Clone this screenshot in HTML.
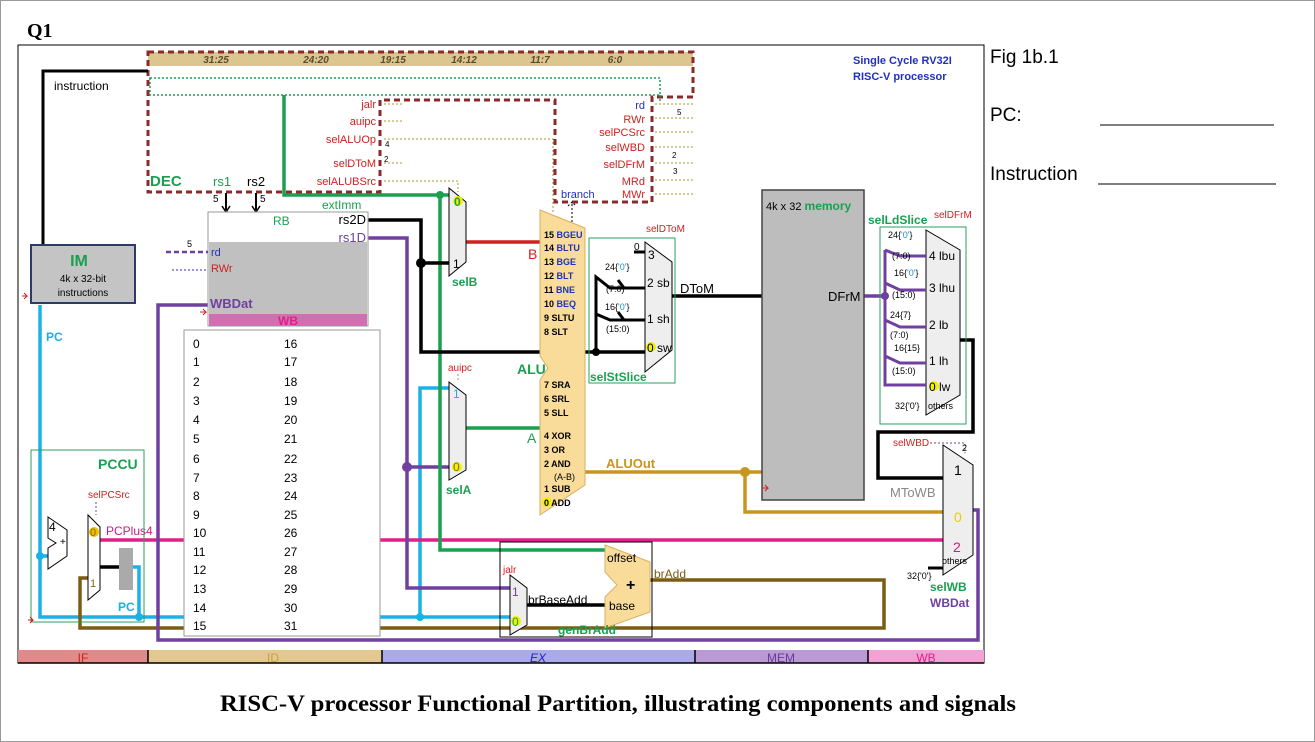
<!DOCTYPE html>
<html><head><meta charset="utf-8"><style>
html,body{margin:0;padding:0;background:#fff}
svg{display:block}
text{font-family:"Liberation Sans",sans-serif}
text.serif{font-family:"Liberation Serif",serif}
</style></head><body>
<svg width="1315" height="742" viewBox="0 0 1315 742" xmlns="http://www.w3.org/2000/svg">
<rect x="0.5" y="0.5" width="1314" height="741" fill="#fff" stroke="#999"/>
<text class="serif" x="27" y="37" font-weight="bold" font-size="20">Q1</text>
<rect x="18" y="45" width="966" height="618" fill="none" stroke="#000" stroke-width="1"/>

<rect x="18" y="650" width="130" height="13" fill="#e08a8a"/>
<rect x="148" y="650" width="234" height="13" fill="#e3c98f"/>
<rect x="382" y="650" width="313" height="13" fill="#aaaaea"/>
<rect x="695" y="650" width="173" height="13" fill="#b99ad4"/>
<rect x="868" y="650" width="116" height="13" fill="#f2a2d4"/>
<g stroke="#000" stroke-width="1.5"><line x1="148" y1="650" x2="148" y2="663"/><line x1="382" y1="650" x2="382" y2="663"/><line x1="695" y1="650" x2="695" y2="663"/><line x1="868" y1="650" x2="868" y2="663"/></g>
<line x1="18" y1="663" x2="984" y2="663" stroke="#000" stroke-width="1.5"/>
<g font-size="12" text-anchor="middle"><text x="83" y="662" fill="#d02020">IF</text><text x="273" y="662" fill="#c8a040">ID</text><text x="538" y="662" fill="#2020c0" font-style="italic">EX</text><text x="781" y="662" fill="#6a3a9a">MEM</text><text x="926" y="662" fill="#e0208a">WB</text></g>

<rect x="148" y="52" width="545" height="14" fill="#dcc68f"/>
<g font-size="10" font-weight="bold" font-style="italic" fill="#5a4a30" text-anchor="middle"><text x="216" y="63">31:25</text><text x="316" y="63">24:20</text><text x="393" y="63">19:15</text><text x="464" y="63">14:12</text><text x="540" y="63">11:7</text><text x="615" y="63">6:0</text></g>
<path d="M148 52 H693 V97 H652 V202 H555 V100 H380 V192 H148 Z" fill="none" stroke="#8b2a2a" stroke-width="3" stroke-dasharray="6,4"/>
<rect x="150" y="78" width="510" height="17" fill="none" stroke="#1aa050" stroke-width="1.5" stroke-dasharray="2,2"/>
<line x1="660" y1="95" x2="660" y2="102" stroke="#1aa050" stroke-width="1.5" stroke-dasharray="2,2"/>
<text x="150" y="186" font-size="15" font-weight="bold" fill="#1aa050">DEC</text>
<g font-size="11" fill="#d02020" text-anchor="end"><text x="376" y="108">jalr</text><text x="376" y="125">auipc</text><text x="376" y="143">selALUOp</text><text x="376" y="167">selDToM</text><text x="376" y="185">selALUBSrc</text></g>
<g stroke="#b8902a" stroke-width="1" stroke-dasharray="2,2" fill="none"><line x1="384" y1="104" x2="402" y2="104"/><line x1="384" y1="121" x2="402" y2="121"/><path d="M384 139 H553 V212"/><line x1="384" y1="163" x2="402" y2="163"/><path d="M384 181 H458 V192"/>
<line x1="655" y1="104" x2="693" y2="104"/><line x1="655" y1="118" x2="693" y2="118"/><line x1="655" y1="132" x2="693" y2="132"/><line x1="655" y1="147" x2="693" y2="147"/><line x1="655" y1="163" x2="693" y2="163"/><line x1="655" y1="180" x2="693" y2="180"/><line x1="655" y1="194" x2="693" y2="194"/></g>
<g font-size="8" fill="#000"><text x="385" y="147">4</text><text x="384" y="162">2</text><text x="677" y="115">5</text><text x="672" y="158">2</text><text x="673" y="174">3</text></g>
<g font-size="11" text-anchor="end"><text x="645" y="109" fill="#2030c0">rd</text><text x="645" y="123" fill="#d02020">RWr</text><text x="645" y="136" fill="#d02020">selPCSrc</text><text x="645" y="151" fill="#d02020">selWBD</text><text x="645" y="168" fill="#d02020">selDFrM</text><text x="645" y="185" fill="#d02020">MRd</text><text x="645" y="198" fill="#d02020">MWr</text></g>
<text x="853" y="64" font-size="11" font-weight="bold" fill="#2030c0">Single Cycle RV32I</text>
<text x="853" y="80" font-size="11" font-weight="bold" fill="#2030c0">RISC-V processor</text>

<text x="990" y="63" font-size="19">Fig 1b.1</text>
<text x="990" y="121" font-size="19">PC:</text>
<line x1="1100" y1="125" x2="1274" y2="125" stroke="#000"/>
<text x="990" y="180" font-size="19">Instruction</text>
<line x1="1098" y1="184" x2="1276" y2="184" stroke="#000"/>

<path d="M148 71 H43 V245" fill="none" stroke="#000" stroke-width="3"/>
<text x="54" y="90" font-size="12">instruction</text>
<rect x="31" y="245" width="104" height="58" fill="#c4c4c4" stroke="#2f3a6b" stroke-width="2"/>
<text x="79" y="266" font-size="16" font-weight="bold" fill="#1aa050" text-anchor="middle">IM</text>
<text x="83" y="282" font-size="10" text-anchor="middle">4k x 32-bit</text>
<text x="83" y="296" font-size="10" text-anchor="middle">instructions</text>
<path d="M22 296 h5 l-3 -3 m3 3 l-3 3" stroke="#d02020" fill="none"/>

<g fill="none" stroke-width="3.5">
<path d="M40 305 V617 H510" stroke="#1ab0e8"/>
<path d="M40 556 H48" stroke="#1ab0e8"/>
<path d="M128 567 H139 V617" stroke="#1ab0e8"/>
<path d="M420 617 V388 H449" stroke="#1ab0e8"/>
<path d="M100 540 H943" stroke="#e0208a"/>
<path d="M650 580 H884 V628 H80 V578 H88" stroke="#7a5c14"/>
<path d="M973 510 H978 V640 H158 V305 H208" stroke="#7040a0"/>
<path d="M368 238 H407 V588 H510" stroke="#7040a0"/>
<path d="M407 467 H449" stroke="#7040a0"/>
<path d="M284 95 V195 H449" stroke="#1aa050"/>
<path d="M440 195 V550 H605" stroke="#1aa050"/>
<path d="M466 428 H540" stroke="#1aa050"/>
<path d="M368 220 H421 V352 H645" stroke="#000"/>
<path d="M421 263 H449" stroke="#000"/>
<path d="M466 242 H540" stroke="#d02020"/>
<path d="M585 472 H762" stroke="#c8961e"/>
<path d="M745 472 V512 H943" stroke="#c8961e"/>
<path d="M672 296 H762" stroke="#000"/>
<path d="M527 605 H605" stroke="#000"/>
<path d="M100 567 H119" stroke="#000"/>
<path d="M960 340 H973 V432 H878 V478 H943" stroke="#000"/>
<path d="M864 296 H885" stroke="#7040a0"/>
</g>
<g>
<circle cx="421" cy="263" r="5"/><circle cx="596" cy="352" r="4"/>
<circle cx="407" cy="467" r="5" fill="#7040a0"/><circle cx="745" cy="472" r="5" fill="#c8961e"/>
<circle cx="40" cy="556" r="4" fill="#1ab0e8"/><circle cx="139" cy="617" r="4" fill="#1ab0e8"/><circle cx="420" cy="617" r="4" fill="#1ab0e8"/>
<circle cx="440" cy="195" r="4" fill="#1aa050"/><circle cx="885" cy="296" r="4" fill="#7040a0"/>
</g>
<text x="322" y="209" font-size="12" fill="#1aa050">extImm</text>
<text x="46" y="341" font-size="12" font-weight="bold" fill="#1ab0e8">PC</text>
<text x="528" y="259" font-size="14" fill="#d02020">B</text>
<text x="527" y="443" font-size="14" fill="#1aa050">A</text>
<text x="606" y="468" font-size="13" font-weight="bold" fill="#c8961e">ALUOut</text>
<text x="680" y="293" font-size="13">DToM</text>
<text x="106" y="535" font-size="12" fill="#c0208a">PCPlus4</text>
<text x="654" y="578" font-size="12" fill="#7a5c14">brAdd</text>

<text x="213" y="186" font-size="13" fill="#1aa050">rs1</text>
<text x="247" y="186" font-size="13">rs2</text>
<g stroke="#000" stroke-width="2"><line x1="226" y1="193" x2="226" y2="210"/><line x1="256" y1="193" x2="256" y2="210"/></g>
<path d="M222 206 l4 6 4 -6 M252 206 l4 6 4 -6" fill="none" stroke="#000" stroke-width="1.5"/>
<g font-size="10"><text x="213" y="202">5</text><text x="260" y="202">5</text></g>

<rect x="208" y="212" width="160" height="114" fill="#fff" stroke="#999"/>
<rect x="209" y="242" width="158" height="72" fill="#c0c0c0"/>
<rect x="209" y="314" width="158" height="12" fill="#d070b0"/>
<text x="273" y="225" font-size="12" fill="#1aa050">RB</text>
<text x="366" y="224" font-size="13" text-anchor="end">rs2D</text>
<text x="366" y="242" font-size="13" text-anchor="end" fill="#7040a0">rs1D</text>
<text x="211" y="256" font-size="11" fill="#2030c0">rd</text>
<text x="211" y="272" font-size="11" fill="#d02020">RWr</text>
<text x="210" y="308" font-size="13" font-weight="bold" fill="#7040a0">WBDat</text>
<text x="288" y="325" font-size="12" font-weight="bold" fill="#e0208a" text-anchor="middle">WB</text>
<line x1="166" y1="252" x2="208" y2="252" stroke="#7040a0" stroke-width="2.5" stroke-dasharray="5,3"/>
<line x1="172" y1="270" x2="208" y2="270" stroke="#2030c0" stroke-dasharray="2,2"/>
<text x="187" y="247" font-size="9">5</text>
<path d="M200 312 h6 l-3 -3 m3 3 l-3 3" stroke="#d02020" fill="none"/>

<rect x="184" y="330" width="196" height="306" fill="#fff" stroke="#999"/>
<g font-size="12">
<text x="193" y="348">0</text><text x="284" y="348">16</text>
<text x="193" y="366">1</text><text x="284" y="366">17</text>
<text x="193" y="386">2</text><text x="284" y="386">18</text>
<text x="193" y="405">3</text><text x="284" y="405">19</text>
<text x="193" y="424">4</text><text x="284" y="424">20</text>
<text x="193" y="443">5</text><text x="284" y="443">21</text>
<text x="193" y="463">6</text><text x="284" y="463">22</text>
<text x="193" y="482">7</text><text x="284" y="482">23</text>
<text x="193" y="500">8</text><text x="284" y="500">24</text>
<text x="193" y="519">9</text><text x="284" y="519">25</text>
<text x="193" y="537">10</text><text x="284" y="537">26</text>
<text x="193" y="556">11</text><text x="284" y="556">27</text>
<text x="193" y="574">12</text><text x="284" y="574">28</text>
<text x="193" y="593">13</text><text x="284" y="593">29</text>
<text x="193" y="612">14</text><text x="284" y="612">30</text>
<text x="193" y="630">15</text><text x="284" y="630">31</text>
</g>

<polygon points="449,188 466,202 466,262 449,276" fill="#eee" stroke="#000"/>
<circle cx="458" cy="201" r="5" fill="#f0f000"/>
<text x="454" y="206" font-size="12" font-weight="bold" fill="#1aa050">0</text>
<text x="453" y="268" font-size="12">1</text>
<text x="452" y="286" font-size="12" font-weight="bold" fill="#1aa050">selB</text>
<polygon points="449,382 466,395 466,470 449,480" fill="#eee" stroke="#000"/>
<text x="453" y="398" font-size="12" fill="#1ab0e8">1</text>
<circle cx="457" cy="467" r="5" fill="#f0f000"/>
<text x="453" y="471" font-size="12" fill="#8a6a00">0</text>
<text x="448" y="371" font-size="10" fill="#d02020">auipc</text>
<path d="M458 374 V382" stroke="#b8902a" stroke-dasharray="2,2"/>
<text x="446" y="494" font-size="12" font-weight="bold" fill="#1aa050">selA</text>

<polygon points="540,210 585,228 585,485 540,515 540,380 548,368 540,356" fill="#f9dc9a" stroke="#d8b060"/>
<text x="517" y="374" font-size="14" font-weight="bold" fill="#1aa050">ALU</text>
<g font-size="9" font-weight="bold">
<text x="544" y="238">15 <tspan fill="#2030c0">BGEU</tspan></text>
<text x="544" y="251">14 <tspan fill="#2030c0">BLTU</tspan></text>
<text x="544" y="265">13 <tspan fill="#2030c0">BGE</tspan></text>
<text x="544" y="279">12 <tspan fill="#2030c0">BLT</tspan></text>
<text x="544" y="293">11 <tspan fill="#2030c0">BNE</tspan></text>
<text x="544" y="307">10 <tspan fill="#2030c0">BEQ</tspan></text>
<text x="544" y="321">9 SLTU</text>
<text x="544" y="335">8 SLT</text>
<text x="544" y="388">7 SRA</text>
<text x="544" y="402">6 SRL</text>
<text x="544" y="416">5 SLL</text>
<text x="544" y="439">4 XOR</text>
<text x="544" y="453">3 OR</text>
<text x="544" y="467">2 AND</text>
<text x="554" y="480" font-weight="normal">(A-B)</text>
<text x="544" y="492">1 SUB</text>
<circle cx="547" cy="502" r="5" fill="#f0f000"/>
<text x="544" y="506">0 ADD</text>
</g>
<text x="561" y="198" font-size="11" fill="#2030c0">branch</text>
<path d="M572 222 V202 M568 206 l4 -4 4 4" stroke="#000" fill="none" stroke-dasharray="2,2"/>

<rect x="589" y="238" width="86" height="145" fill="none" stroke="#2aa060"/>
<polygon points="645,242 672,262 672,350 645,372" fill="#eee" stroke="#000"/>
<text x="646" y="232" font-size="10" fill="#d02020">selDToM</text>
<text x="634" y="250" font-size="10">0</text>
<line x1="634" y1="252" x2="645" y2="252" stroke="#000" stroke-width="3"/>
<text x="648" y="259" font-size="12">3</text>
<text x="647" y="287" font-size="12">2 sb</text>
<text x="647" y="323" font-size="12">1 sh</text>
<circle cx="651" cy="347" r="5" fill="#f0f000"/>
<text x="647" y="352" font-size="12">0 sw</text>
<path d="M596 352 V277 L610 288 H645 M596 314 L610 320 H645 M618 280 L624 288 M618 312 L624 320" fill="none" stroke="#000" stroke-width="3"/>
<g font-size="9"><text x="605" y="270">24{<tspan fill="#2090c0">'0'</tspan>}</text><text x="606" y="292">(7:0)</text><text x="605" y="310">16{<tspan fill="#2090c0">'0'</tspan>}</text><text x="606" y="332">(15:0)</text></g>
<text x="590" y="381" font-size="12" font-weight="bold" fill="#1aa050">selStSlice</text>

<rect x="762" y="190" width="102" height="310" fill="#bdbdbd" stroke="#444" stroke-width="1.5"/>
<text x="766" y="210" font-size="11">4k x 32 <tspan font-weight="bold" font-size="12" fill="#1aa050">memory</tspan></text>
<text x="828" y="301" font-size="13">DFrM</text>
<path d="M762 488 h6 l-3 -3 m3 3 l-3 3" stroke="#d02020" fill="none"/>

<rect x="880" y="227" width="86" height="197" fill="none" stroke="#2aa060"/>
<text x="868" y="224" font-size="12" font-weight="bold" fill="#1aa050">selLdSlice</text>
<text x="934" y="218" font-size="10" fill="#d02020">selDFrM</text>
<polygon points="926,230 960,250 960,395 926,415" fill="#eee" stroke="#000"/>
<g font-size="12"><text x="929" y="260">4 lbu</text><text x="929" y="292">3 lhu</text><text x="929" y="329">2 lb</text><text x="929" y="365">1 lh</text></g>
<circle cx="934" cy="386" r="5" fill="#f0f000"/>
<text x="929" y="391" font-size="12">0 lw</text>
<text x="928" y="409" font-size="9">others</text>
<text x="895" y="409" font-size="9">32{'0'}</text>
<path d="M885 250 V385 H926 M885 250 L900 256 H926 M885 283 L900 290 H926 M885 320 L900 327 H926 M885 356 L900 363 H926" fill="none" stroke="#7040a0" stroke-width="3"/>
<g font-size="9"><text x="888" y="238">24{<tspan fill="#2090c0">'0'</tspan>}</text><text x="892" y="259">(7:0)</text><text x="894" y="276">16{<tspan fill="#2090c0">'0'</tspan>}</text><text x="892" y="298">(15:0)</text><text x="890" y="318">24{7}</text><text x="890" y="338">(7:0)</text><text x="894" y="351">16{15}</text><text x="892" y="374">(15:0)</text></g>

<polygon points="943,445 973,465 973,555 943,575" fill="#eee" stroke="#000"/>
<text x="893" y="446" font-size="10" fill="#d02020">selWBD</text>
<path d="M930 443 H965 V453" stroke="#7040a0" fill="none" stroke-dasharray="2,2"/>
<text x="962" y="451" font-size="9">2</text>
<text x="954" y="475" font-size="14">1</text>
<text x="954" y="522" font-size="14" fill="#e8d000">0</text>
<text x="953" y="552" font-size="14" fill="#c0208a">2</text>
<text x="942" y="564" font-size="9">others</text>
<text x="907" y="579" font-size="9">32{'0'}</text>
<line x1="928" y1="568" x2="943" y2="568" stroke="#000" stroke-width="3"/>
<text x="890" y="497" font-size="13" fill="#888">MToWB</text>
<text x="930" y="591" font-size="12" font-weight="bold" fill="#1aa050">selWB</text>
<text x="930" y="607" font-size="12" font-weight="bold" fill="#7040a0">WBDat</text>

<rect x="500" y="542" width="152" height="95" fill="none" stroke="#000"/>
<polygon points="605,545 650,562 650,612 605,628 605,597 617,585 605,572" fill="#f9dc9a" stroke="#d8b060"/>
<text x="607" y="562" font-size="12">offset</text>
<text x="609" y="610" font-size="12">base</text>
<text x="626" y="590" font-size="16" font-weight="bold">+</text>
<polygon points="510,575 527,588 527,625 510,635" fill="#eee" stroke="#000"/>
<text x="512" y="596" font-size="12" fill="#7040a0">1</text>
<circle cx="516" cy="621" r="5" fill="#f0f000"/>
<text x="512" y="626" font-size="12" fill="#1aa050">0</text>
<text x="503" y="573" font-size="10" fill="#d02020">jalr</text>
<text x="528" y="604" font-size="12">brBaseAdd</text>
<text x="558" y="634" font-size="12" font-weight="bold" fill="#1aa050">genBrAdd</text>

<rect x="31" y="450" width="113" height="172" fill="none" stroke="#2aa060"/>
<text x="98" y="469" font-size="14" font-weight="bold" fill="#1aa050">PCCU</text>
<polygon points="48,517 67,530 67,556 48,569 48,548 56,543 48,538" fill="#fff" stroke="#000"/>
<text x="49" y="531" font-size="12">4</text>
<text x="60" y="545" font-size="10">+</text>
<polygon points="88,515 100,527 100,590 88,600" fill="#fff" stroke="#000"/>
<circle cx="94" cy="532" r="5" fill="#f0c000"/>
<text x="90" y="536" font-size="11" fill="#8a6a00">0</text>
<text x="90" y="587" font-size="11" fill="#8a6a00">1</text>
<text x="88" y="498" font-size="10" fill="#d02020">selPCSrc</text>
<path d="M96 502 V515" stroke="#7040a0" stroke-dasharray="2,2"/>
<rect x="119" y="548" width="14" height="42" fill="#aaa"/>
<text x="118" y="611" font-size="12" font-weight="bold" fill="#1ab0e8">PC</text>
<path d="M28 620 h5 l-3 -3 m3 3 l-3 3" stroke="#d02020" fill="none"/>

<text class="serif" x="220" y="711" font-weight="bold" font-size="23" textLength="796" lengthAdjust="spacingAndGlyphs">RISC-V processor Functional Partition, illustrating components and signals</text>
</svg>
</body></html>
